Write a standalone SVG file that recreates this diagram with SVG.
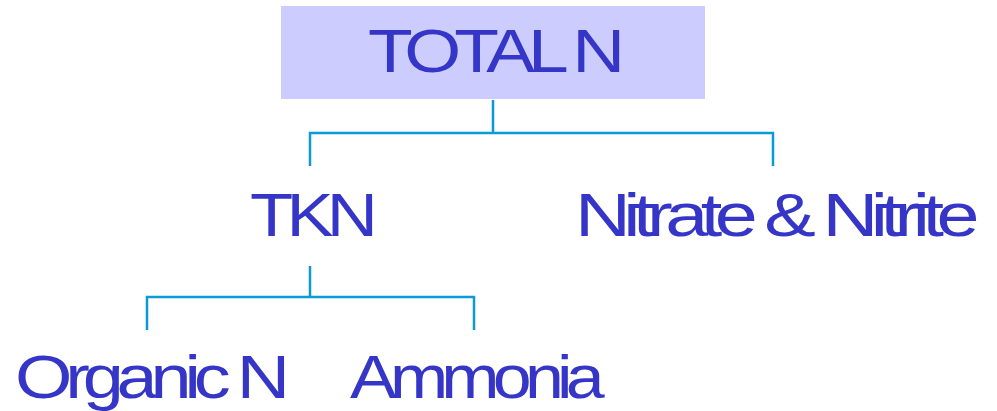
<svg xmlns="http://www.w3.org/2000/svg" width="997" height="411" viewBox="0 0 997 411">
<style>
.t{font-family:"Liberation Sans",Arial,sans-serif;font-size:62px;fill:#3535C8;letter-spacing:-6px;}
.c{fill:none;stroke:#0A9AD6;stroke-width:2.5;}
</style>
<rect width="997" height="411" fill="#fff"/>
<g id="connectors">
<path class="c" d="M493,100 V133 M310,166 V133 H773 V166"/>
<path class="c" d="M310,266 V297 M147,330 V297 H474 V330"/>
</g>
<g id="total">
<rect x="281" y="6" width="424" height="93" fill="#CCCCFF"/>
<text class="t" x="368" y="72" textLength="250" lengthAdjust="spacingAndGlyphs">TOTAL N</text>
</g>
<g id="tkn"><text class="t" x="250" y="236" textLength="121" lengthAdjust="spacingAndGlyphs">TKN</text></g>
<g id="nitrate"><text class="t" x="575" y="236" textLength="397" lengthAdjust="spacingAndGlyphs">Nitrate &amp; Nitrite</text></g>
<g id="organic"><text class="t" x="15" y="398" textLength="268" lengthAdjust="spacingAndGlyphs">Organic N</text></g>
<g id="ammonia"><text class="t" x="350" y="398" textLength="248" lengthAdjust="spacingAndGlyphs">Ammonia</text></g>
</svg>
